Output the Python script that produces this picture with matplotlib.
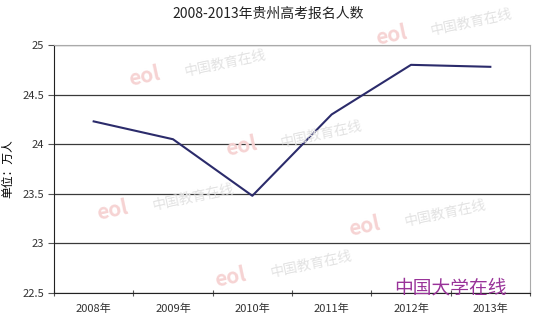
import matplotlib
matplotlib.use("Agg")
import matplotlib.pyplot as plt
import numpy as np

plt.rcParams['font.family'] = ['Noto Sans CJK SC', 'DejaVu Sans']

categories = ["2008年", "2009年", "2010年", "2011年", "2012年", "2013年"]
values = [24.23, 24.05, 23.48, 24.30, 24.80, 24.78]
yticks = [22.5, 23, 23.5, 24, 24.5, 25]
ytick_labels = ["22.5", "23", "23.5", "24", "24.5", "25"]

fig = plt.figure(figsize=(5.36, 3.19), dpi=100)
ax = fig.add_axes([54/536, 26/319, 476/536, 248/319])

# faint watermarks
wm = [(0.42, 0.80), (0.88, 0.93), (0.60, 0.58), (0.83, 0.33), (0.36, 0.38), (0.58, 0.17)]
for (wx, wy) in wm:
    fig.text(wx, wy, "中国教育在线", color="#e2e2e2", fontsize=10, rotation=12,
             ha="center", va="center", zorder=0)
    fig.text(wx - 0.15, wy - 0.04, "eol", color="#f6d3d3", fontsize=15, fontweight="bold",
             rotation=12, ha="center", va="center", zorder=0)

x = np.arange(len(categories))
ax.plot(x, values, color="#2b2b6b", linewidth=1.5, zorder=3)

ax.set_xlim(-0.5, len(categories) - 0.5)
ax.set_ylim(22.5, 25)
ax.set_yticks(yticks)
ax.set_yticklabels(ytick_labels, fontsize=8, color="#333333")
ax.set_xticks(np.arange(len(categories) + 1) - 0.5)
ax.set_xticklabels([])
ax.set_xticks(x, minor=True)
ax.set_xticklabels(categories, minor=True, fontsize=8, color="#333333")
ax.tick_params(axis='x', which='minor', length=0, pad=8)
ax.tick_params(axis='x', which='major', length=4, direction='inout', color="#555555")
ax.tick_params(axis='y', length=4, direction='out', color="#555555", pad=3)

ax.grid(axis='y', color="#3a3a3a", linewidth=0.9)
ax.set_axisbelow(True)
ax.patch.set_alpha(0)

ax.spines['left'].set_color("#222222")
ax.spines['bottom'].set_color("#222222")
ax.spines['top'].set_color("#aaaaaa")
ax.spines['right'].set_color("#aaaaaa")

ax.set_ylabel("单位：万人", fontsize=8.5, labelpad=6)

fig.text(0.5, 0.955, "2008-2013年贵州高考报名人数", ha="center", va="center",
         fontsize=10, color="#222222")

fig.text(450/536, 1 - 288/319, "中国大学在线", ha="center", va="center",
         fontsize=13.5, color="#993399")

fig.savefig("out.png", dpi=100)
